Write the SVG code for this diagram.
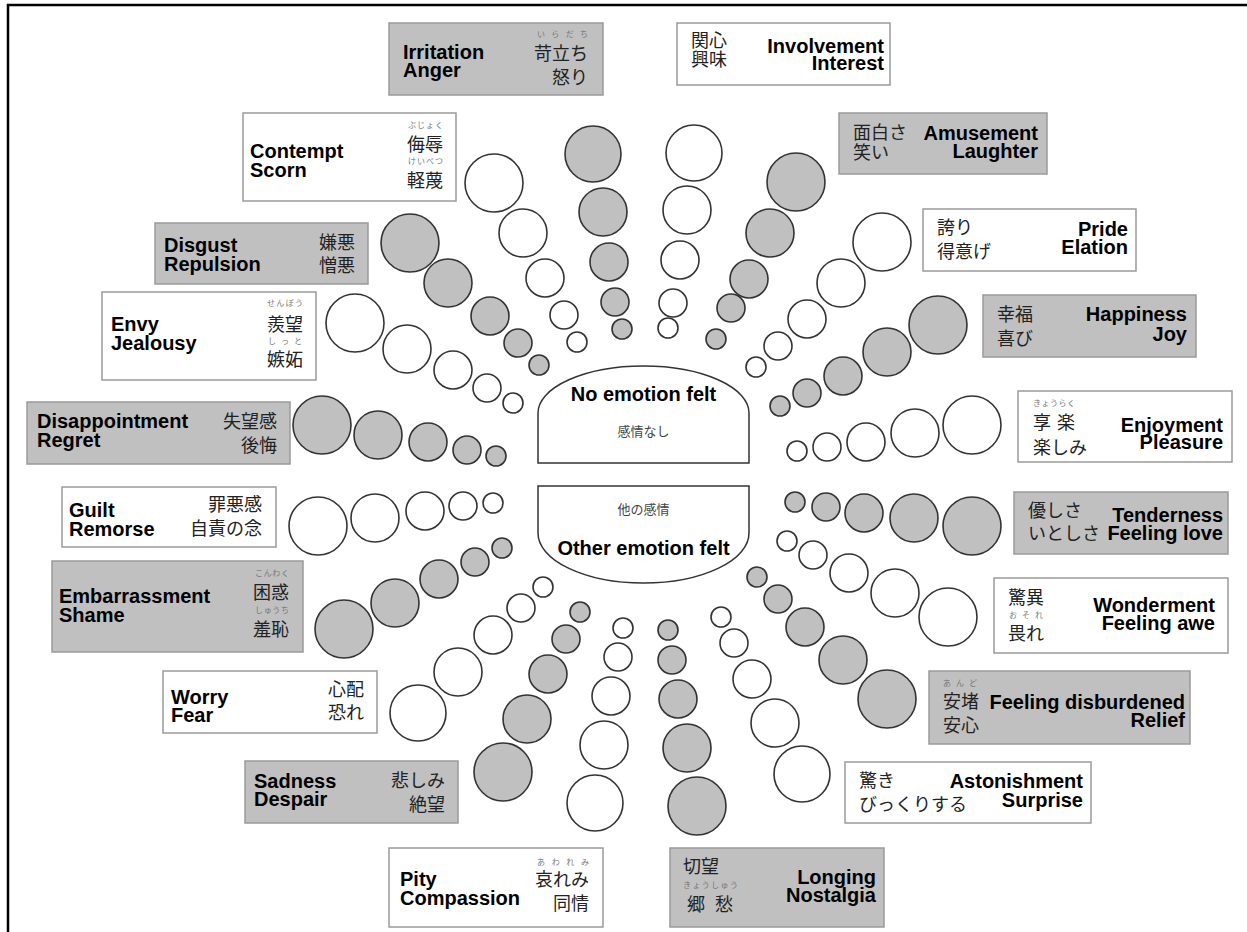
<svg xmlns="http://www.w3.org/2000/svg" width="1247" height="932" viewBox="0 0 1247 932">
<style>
.bg{fill:#c0c0c0;stroke:#9a9a9a;stroke-width:1.5}
.bw{fill:#fff;stroke:#9a9a9a;stroke-width:1.5}
.g{fill:#c0c0c0;stroke:#333;stroke-width:1.6}
.w{fill:#fff;stroke:#333;stroke-width:1.6}
.en{font-family:"Liberation Sans",Arial,sans-serif;font-weight:bold;font-size:20px;fill:#000}
.jp{font-family:"Noto Sans CJK JP","Noto Sans CJK SC",sans-serif;font-size:18px;fill:#222}
.rb{font-family:"Noto Sans CJK JP","Noto Sans CJK SC",sans-serif;font-size:8px;fill:#777}
.e{text-anchor:end}
.c{text-anchor:middle}
.ctr{fill:#fff;stroke:#333;stroke-width:1.5}
.cj{font-family:"Noto Sans CJK JP","Noto Sans CJK SC",sans-serif;font-size:13px;fill:#444}
</style>
<rect x="8" y="5" width="1270" height="960" fill="#fff" stroke="#000" stroke-width="2.5"/>

<g id="center-none">
<path class="ctr" d="M538,463 L538,413 A105.5,47 0 0 1 749,413 L749,463 Z"/>
<text class="en c" x="643.5" y="401">No emotion felt</text>
<text class="cj c" x="643.5" y="436">感情なし</text>
</g>
<g id="center-other">
<path class="ctr" d="M538,486 L749,486 L749,533 A105.5,50 0 0 1 538,533 Z"/>
<text class="cj c" x="643.5" y="514">他の感情</text>
<text class="en c" x="643.5" y="555">Other emotion felt</text>
</g>

<g id="irritation">
<rect class="bg" x="389" y="23" width="214" height="72"/>
<text class="en" x="403" y="59">Irritation</text>
<text class="en" x="403" y="77">Anger</text>
<text class="rb" x="537" y="37" textLength="51" lengthAdjust="spacing">いらだち</text>
<text class="jp e" x="588" y="60">苛立ち</text>
<text class="jp e" x="588" y="84">怒り</text>
<circle class="g" cx="593" cy="154" r="28"/><circle class="g" cx="603" cy="212" r="24"/><circle class="g" cx="609" cy="262" r="19"/><circle class="g" cx="615" cy="302" r="14"/><circle class="g" cx="622" cy="329" r="10"/>
</g>

<g id="involvement">
<rect class="bw" x="677" y="23" width="213" height="62"/>
<text class="jp" x="691" y="47">関心</text>
<text class="jp" x="691" y="66">興味</text>
<text class="en e" x="884" y="53">Involvement</text>
<text class="en e" x="884" y="70">Interest</text>
<circle class="w" cx="694" cy="153" r="28"/><circle class="w" cx="687" cy="210" r="24"/><circle class="w" cx="680" cy="260" r="19"/><circle class="w" cx="673" cy="303" r="14"/><circle class="w" cx="668" cy="328" r="10"/>
</g>

<g id="amusement">
<rect class="bg" x="839" y="113" width="208" height="61"/>
<text class="jp" x="853" y="139">面白さ</text>
<text class="jp" x="853" y="159">笑い</text>
<text class="en e" x="1038" y="140">Amusement</text>
<text class="en e" x="1038" y="158">Laughter</text>
<circle class="g" cx="796" cy="182" r="29"/><circle class="g" cx="770" cy="233" r="24"/><circle class="g" cx="749" cy="279" r="19"/><circle class="g" cx="731" cy="308" r="14"/><circle class="g" cx="716" cy="339" r="10"/>
</g>

<g id="pride">
<rect class="bw" x="923" y="209" width="213" height="62"/>
<text class="jp" x="937" y="234">誇り</text>
<text class="jp" x="937" y="258">得意げ</text>
<text class="en e" x="1128" y="236">Pride</text>
<text class="en e" x="1128" y="254">Elation</text>
<circle class="w" cx="882" cy="242" r="29"/><circle class="w" cx="841" cy="283" r="24"/><circle class="w" cx="807" cy="319" r="19"/><circle class="w" cx="778" cy="346" r="14"/><circle class="w" cx="756" cy="367" r="10"/>
</g>

<g id="happiness">
<rect class="bg" x="983" y="295" width="213" height="62"/>
<text class="jp" x="997" y="321">幸福</text>
<text class="jp" x="997" y="345">喜び</text>
<text class="en e" x="1187" y="321">Happiness</text>
<text class="en e" x="1187" y="341">Joy</text>
<circle class="g" cx="938" cy="325" r="29"/><circle class="g" cx="887" cy="352" r="24"/><circle class="g" cx="843" cy="376" r="19"/><circle class="g" cx="807" cy="393" r="14"/><circle class="g" cx="780" cy="406" r="10"/>
</g>

<g id="enjoyment">
<rect class="bw" x="1018" y="391" width="214" height="71"/>
<text class="rb" x="1033" y="406" textLength="42" lengthAdjust="spacing">きょうらく</text>
<text class="jp" x="1033" y="429" textLength="42" lengthAdjust="spacing">享楽</text>
<text class="jp" x="1033" y="454">楽しみ</text>
<text class="en e" x="1223" y="432">Enjoyment</text>
<text class="en e" x="1223" y="449">Pleasure</text>
<circle class="w" cx="972" cy="425" r="29"/><circle class="w" cx="915" cy="433" r="24"/><circle class="w" cx="866" cy="442" r="19"/><circle class="w" cx="827" cy="447" r="14"/><circle class="w" cx="797" cy="451" r="10"/>
</g>

<g id="tenderness">
<rect class="bg" x="1014" y="492" width="214" height="62"/>
<text class="jp" x="1028" y="517">優しさ</text>
<text class="jp" x="1028" y="540">いとしさ</text>
<text class="en e" x="1223" y="522">Tenderness</text>
<text class="en e" x="1223" y="540">Feeling love</text>
<circle class="g" cx="795" cy="502" r="10"/><circle class="g" cx="826" cy="507" r="14"/><circle class="g" cx="864" cy="513" r="19"/><circle class="g" cx="914" cy="518" r="24"/><circle class="g" cx="972" cy="526" r="29"/>
</g>

<g id="wonderment">
<rect class="bw" x="994" y="578" width="234" height="75"/>
<text class="jp" x="1008" y="604">驚異</text>
<text class="rb" x="1009" y="618" textLength="34" lengthAdjust="spacing">おそれ</text>
<text class="jp" x="1008" y="640">畏れ</text>
<text class="en e" x="1215" y="612">Wonderment</text>
<text class="en e" x="1215" y="630">Feeling awe</text>
<circle class="w" cx="787" cy="541" r="10"/><circle class="w" cx="813" cy="555" r="14"/><circle class="w" cx="849" cy="573" r="19"/><circle class="w" cx="895" cy="593" r="24"/><circle class="w" cx="948" cy="617" r="29"/>
</g>

<g id="relief">
<rect class="bg" x="929" y="671" width="261" height="73"/>
<text class="rb" x="943" y="686" textLength="34" lengthAdjust="spacing">あんど</text>
<text class="jp" x="943" y="708">安堵</text>
<text class="jp" x="943" y="732">安心</text>
<text class="en e" x="1185" y="709">Feeling disburdened</text>
<text class="en e" x="1185" y="727">Relief</text>
<circle class="g" cx="757" cy="577" r="10"/><circle class="g" cx="778" cy="599" r="14"/><circle class="g" cx="805" cy="627" r="19"/><circle class="g" cx="843" cy="660" r="24"/><circle class="g" cx="887" cy="699" r="29"/>
</g>

<g id="surprise">
<rect class="bw" x="845" y="762" width="246" height="61"/>
<text class="jp" x="859" y="787">驚き</text>
<text class="jp" x="859" y="811">びっくりする</text>
<text class="en e" x="1083" y="788">Astonishment</text>
<text class="en e" x="1083" y="807">Surprise</text>
<circle class="w" cx="721" cy="617" r="10"/><circle class="w" cx="734" cy="643" r="14"/><circle class="w" cx="752" cy="679" r="19"/><circle class="w" cx="775" cy="723" r="24"/><circle class="w" cx="802" cy="774" r="28"/>
</g>

<g id="longing">
<rect class="bg" x="670" y="848" width="214" height="79"/>
<text class="jp" x="683" y="873">切望</text>
<text class="rb" x="683" y="888" textLength="55" lengthAdjust="spacing">きょうしゅう</text>
<text class="jp" x="687" y="911" textLength="46" lengthAdjust="spacing">郷愁</text>
<text class="en e" x="876" y="884">Longing</text>
<text class="en e" x="876" y="902">Nostalgia</text>
<circle class="g" cx="668" cy="630" r="10"/><circle class="g" cx="672" cy="660" r="14"/><circle class="g" cx="678" cy="699" r="19"/><circle class="g" cx="687" cy="748" r="24"/><circle class="g" cx="697" cy="806" r="29"/>
</g>

<g id="pity">
<rect class="bw" x="389" y="848" width="214" height="79"/>
<text class="en" x="400" y="886">Pity</text>
<text class="en" x="400" y="905">Compassion</text>
<text class="rb" x="537" y="865" textLength="52" lengthAdjust="spacing">あわれみ</text>
<text class="jp e" x="589" y="886">哀れみ</text>
<text class="jp e" x="589" y="910">同情</text>
<circle class="w" cx="623" cy="628" r="10"/><circle class="w" cx="618" cy="657" r="14"/><circle class="w" cx="611" cy="696" r="19"/><circle class="w" cx="604" cy="745" r="24"/><circle class="w" cx="595" cy="803" r="28"/>
</g>

<g id="sadness">
<rect class="bg" x="245" y="761" width="213" height="62"/>
<text class="en" x="254" y="788">Sadness</text>
<text class="en" x="254" y="806">Despair</text>
<text class="jp e" x="445" y="787">悲しみ</text>
<text class="jp e" x="445" y="811">絶望</text>
<circle class="g" cx="580" cy="612" r="10"/><circle class="g" cx="566" cy="639" r="14"/><circle class="g" cx="548" cy="674" r="19"/><circle class="g" cx="527" cy="719" r="24"/><circle class="g" cx="503" cy="772" r="29"/>
</g>

<g id="fear">
<rect class="bw" x="163" y="671" width="214" height="62"/>
<text class="en" x="171" y="704">Worry</text>
<text class="en" x="171" y="722">Fear</text>
<text class="jp e" x="364" y="696">心配</text>
<text class="jp e" x="364" y="719">恐れ</text>
<circle class="w" cx="543" cy="587" r="10"/><circle class="w" cx="521" cy="608" r="14"/><circle class="w" cx="493" cy="635" r="19"/><circle class="w" cx="458" cy="672" r="24"/><circle class="w" cx="418" cy="713" r="28"/>
</g>

<g id="embarrassment">
<rect class="bg" x="52" y="561" width="251" height="91"/>
<text class="en" x="59" y="603">Embarrassment</text>
<text class="en" x="59" y="622">Shame</text>
<text class="rb" x="255" y="576" textLength="34" lengthAdjust="spacing">こんわく</text>
<text class="jp e" x="289" y="599">困惑</text>
<text class="rb" x="255" y="613" textLength="34" lengthAdjust="spacing">しゅうち</text>
<text class="jp e" x="289" y="636">羞恥</text>
<circle class="g" cx="502" cy="548" r="10"/><circle class="g" cx="475" cy="562" r="14"/><circle class="g" cx="439" cy="579" r="19"/><circle class="g" cx="395" cy="603" r="24"/><circle class="g" cx="344" cy="629" r="29"/>
</g>

<g id="guilt">
<rect class="bw" x="62" y="487" width="214" height="60"/>
<text class="en" x="69" y="517">Guilt</text>
<text class="en" x="69" y="536">Remorse</text>
<text class="jp e" x="262" y="511">罪悪感</text>
<text class="jp e" x="262" y="535">自責の念</text>
<circle class="w" cx="493" cy="503" r="10"/><circle class="w" cx="463" cy="506" r="14"/><circle class="w" cx="425" cy="511" r="19"/><circle class="w" cx="375" cy="518" r="24"/><circle class="w" cx="318" cy="526" r="29"/>
</g>

<g id="disappointment">
<rect class="bg" x="27" y="402" width="263" height="62"/>
<text class="en" x="37" y="428">Disappointment</text>
<text class="en" x="37" y="447">Regret</text>
<text class="jp e" x="277" y="428">失望感</text>
<text class="jp e" x="277" y="452">後悔</text>
<circle class="g" cx="496" cy="456" r="10"/><circle class="g" cx="467" cy="450" r="14"/><circle class="g" cx="428" cy="442" r="19"/><circle class="g" cx="378" cy="435" r="24"/><circle class="g" cx="322" cy="425" r="29"/>
</g>

<g id="envy">
<rect class="bw" x="102" y="292" width="214" height="88"/>
<text class="en" x="111" y="331">Envy</text>
<text class="en" x="111" y="350">Jealousy</text>
<text class="rb" x="267" y="306" textLength="36" lengthAdjust="spacing">せんぼう</text>
<text class="jp e" x="303" y="331">羨望</text>
<text class="rb" x="268" y="344" textLength="34" lengthAdjust="spacing">しっと</text>
<text class="jp e" x="303" y="366">嫉妬</text>
<circle class="w" cx="513" cy="403" r="10"/><circle class="w" cx="487" cy="388" r="14"/><circle class="w" cx="453" cy="370" r="19"/><circle class="w" cx="407" cy="349" r="24"/><circle class="w" cx="355" cy="323" r="29"/>
</g>

<g id="disgust">
<rect class="bg" x="155" y="223" width="213" height="61"/>
<text class="en" x="164" y="252">Disgust</text>
<text class="en" x="164" y="271">Repulsion</text>
<text class="jp e" x="355" y="249">嫌悪</text>
<text class="jp e" x="355" y="272">憎悪</text>
<circle class="g" cx="539" cy="365" r="10"/><circle class="g" cx="518" cy="343" r="14"/><circle class="g" cx="490" cy="316" r="19"/><circle class="g" cx="448" cy="283" r="24"/><circle class="g" cx="410" cy="243" r="29"/>
</g>

<g id="contempt">
<rect class="bw" x="243" y="113" width="213" height="88"/>
<text class="en" x="250" y="158">Contempt</text>
<text class="en" x="250" y="177">Scorn</text>
<text class="rb" x="408" y="128" textLength="35" lengthAdjust="spacing">ぶじょく</text>
<text class="jp e" x="443" y="151">侮辱</text>
<text class="rb" x="408" y="164" textLength="35" lengthAdjust="spacing">けいべつ</text>
<text class="jp e" x="443" y="187">軽蔑</text>
<circle class="w" cx="577" cy="342" r="10"/><circle class="w" cx="564" cy="315" r="14"/><circle class="w" cx="545" cy="278" r="19"/><circle class="w" cx="523" cy="233" r="24"/><circle class="w" cx="494" cy="183" r="29"/>
</g>
</svg>
